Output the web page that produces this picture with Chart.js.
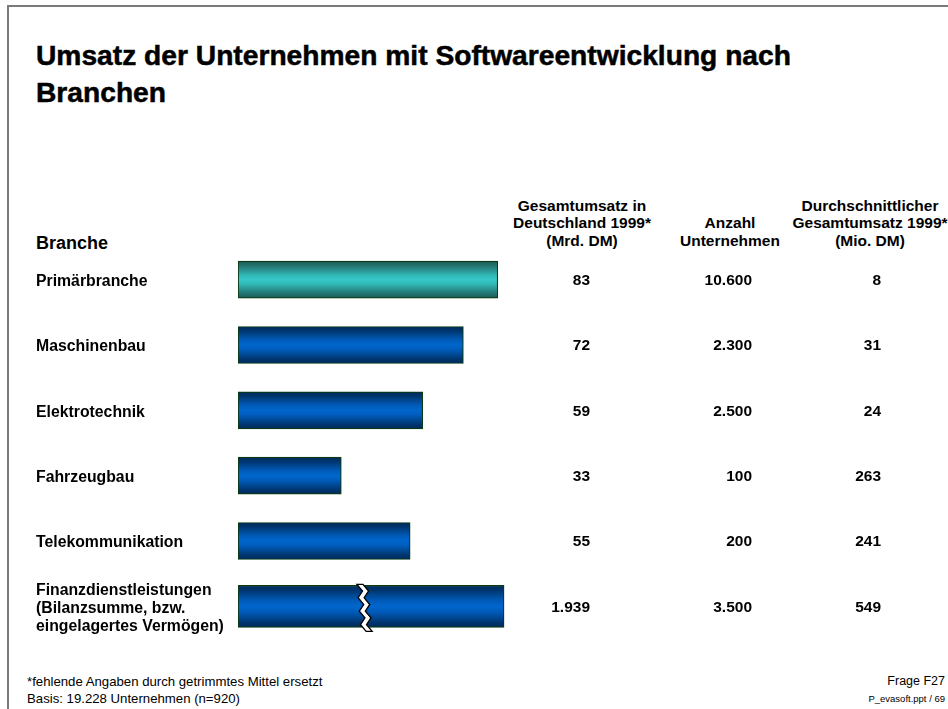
<!DOCTYPE html>
<html>
<head>
<meta charset="utf-8">
<script src="https://cdn.jsdelivr.net/npm/chart.js@4.4.1/dist/chart.umd.min.js"></script>
<style>
  html, body { margin: 0; padding: 0; background: #fff; }
  body { width: 948px; height: 709px; position: relative; overflow: hidden; font-family: "Liberation Sans", Arial, sans-serif; color: #000; }
  .frameTop { position: absolute; left: 7px; top: 5px; right: 0; height: 2px; background: #7a7a7a; }
  .frameLeft { position: absolute; left: 7px; top: 5px; bottom: 0; width: 2px; background: #7a7a7a; }
  .title { position: absolute; left: 36px; top: 37px; font-weight: bold; font-size: 28.2px; line-height: 37px; white-space: nowrap; -webkit-text-stroke: 0.5px #000; }
  .hdr { position: absolute; font-weight: bold; font-size: 15.5px; line-height: 17.5px; text-align: center; white-space: nowrap; }
  .foot { position: absolute; font-size: 13.2px; line-height: 17px; white-space: nowrap; }
  canvas { position: absolute; left: 0; top: 0; }
</style>
</head>
<body>
<div class="frameTop"></div>
<div class="frameLeft"></div>
<div class="title">Umsatz der Unternehmen mit Softwareentwicklung nach<br>Branchen</div>
<div class="hdr" style="left:36px; top:232.5px; font-size:18px; line-height:21px; text-align:left;">Branche</div>
<div class="hdr" style="left:482px; width:200px; top:196.75px;">Gesamtumsatz in<br>Deutschland 1999*<br>(Mrd. DM)</div>
<div class="hdr" style="left:630px; width:200px; top:214.25px;">Anzahl<br>Unternehmen</div>
<div class="hdr" style="left:770px; width:200px; top:196.75px;">Durchschnittlicher<br>Gesamtumsatz 1999*<br>(Mio. DM)</div>
<div class="foot" style="left:27px; top:673px;">*fehlende Angaben durch getrimmtes Mittel ersetzt<br>Basis: 19.228 Unternehmen (n=920)</div>
<div class="foot" style="right:3px; top:673px; text-align:right; font-size:12.5px;">Frage F27<br><span style="font-size:9.5px;">P_evasoft.ppt / 69</span></div>
<canvas id="c" width="948" height="709"></canvas>
<script>
// ---- data ----
const categories = [
  "Primärbranche",
  "Maschinenbau",
  "Elektrotechnik",
  "Fahrzeugbau",
  "Telekommunikation",
  ["Finanzdienstleistungen", "(Bilanzsumme, bzw.", "eingelagertes Vermögen)"]
];
const umsatzMrdDM = [83, 72, 59, 33, 55, 1939];          // Gesamtumsatz 1999 (Mrd. DM)
const umsatzLabels = ["83", "72", "59", "33", "55", "1.939"];
const anzahlLabels = ["10.600", "2.300", "2.500", "100", "200", "3.500"];
const durchschnittLabels = ["8", "31", "24", "263", "241", "549"];
const brokenIndex = 5;        // Finanzdienstleistungen bar is drawn with a scale break
const brokenBarShown = 85;    // length the broken bar is drawn at (axis units)
const breakAt = 38;           // position of the zigzag break (axis units)

// ---- build datasets ----
const normalData = umsatzMrdDM.map((v, i) => i === brokenIndex ? null : v);
const brokenData = umsatzMrdDM.map((v, i) => i === brokenIndex ? brokenBarShown : null);

function barGradient(ctx, thickness, stops) {
  const chart = ctx.chart;
  const ys = chart.scales && chart.scales.y;
  const mid = stops[Math.floor(stops.length / 2)][1];
  if (!ys) return mid;
  const yc = ys.getPixelForValue(ctx.dataIndex);
  if (!isFinite(yc)) return mid;
  const g = chart.ctx.createLinearGradient(0, yc - thickness / 2, 0, yc + thickness / 2);
  stops.forEach(s => g.addColorStop(s[0], s[1]));
  return g;
}
const blueStops = [[0, "#002a5a"], [0.12, "#00356f"], [0.25, "#004a97"], [0.38, "#005cbc"], [0.5, "#0066cc"], [0.62, "#005cbc"], [0.75, "#004a97"], [0.88, "#00356f"], [1, "#002a5a"]];
const tealStops = [[0, "#1b5a55"], [0.12, "#23736f"], [0.25, "#2a9592"], [0.38, "#31b8b6"], [0.5, "#36c9c8"], [0.62, "#31b8b6"], [0.75, "#2a9592"], [0.88, "#23736f"], [1, "#1b5a55"]];

const valuesPlugin = {
  id: "valuesAndBreak",
  afterDatasetsDraw(chart) {
    const c = chart.ctx;
    const ys = chart.scales.y, xs = chart.scales.x;
    c.save();
    // zigzag break
    const yc = ys.getPixelForValue(brokenIndex);
    const xb = xs.getPixelForValue(breakAt);
    const top = yc - 22, bot = yc + 25;
    const left = [], n = 7, amp = 5;
    for (let k = 0; k <= n; k++) {
      left.push([xb + (k % 2 ? amp : 0) + k * 0.6, top + (bot - top) * k / n]);
    }
    c.beginPath();
    left.forEach((p, k) => k ? c.lineTo(p[0], p[1]) : c.moveTo(p[0], p[1]));
    for (let k = left.length - 1; k >= 0; k--) c.lineTo(left[k][0] + 6, left[k][1]);
    c.closePath();
    c.fillStyle = "#fff";
    c.fill();
    c.lineWidth = 1.3;
    c.strokeStyle = "#000";
    c.stroke();
    // value columns
    c.fillStyle = "#000";
    c.font = "bold 15.5px 'Liberation Sans', Arial, sans-serif";
    c.textAlign = "right";
    c.textBaseline = "middle";
    categories.forEach((_, i) => {
      const y = ys.getPixelForValue(i) + 1;
      c.fillText(umsatzLabels[i], 590, y);
      c.fillText(anzahlLabels[i], 752, y);
      c.fillText(durchschnittLabels[i], 881, y);
    });
    c.restore();
  }
};

const chart = new Chart(document.getElementById("c"), {
  type: "bar",
  data: {
    labels: categories,
    datasets: [
      {
        data: normalData,
        barThickness: 37,
        grouped: false,
        borderWidth: 1.2,
        borderSkipped: false,
        borderColor: "#0a3a12",
        backgroundColor: ctx => barGradient(ctx, 37, ctx.dataIndex === 0 ? tealStops : blueStops)
      },
      {
        data: brokenData,
        barThickness: 42,
        grouped: false,
        borderWidth: 1.2,
        borderSkipped: false,
        borderColor: "#0a3a12",
        backgroundColor: ctx => barGradient(ctx, 42, blueStops)
      }
    ]
  },
  options: {
    indexAxis: "y",
    responsive: false,
    animation: false,
    layout: { padding: { left: 36, top: 247, right: 397, bottom: 70 } },
    plugins: { legend: { display: false }, tooltip: { enabled: false } },
    scales: {
      x: { display: false, min: 0, max: 100 },
      y: {
        grid: { display: false },
        border: { display: false },
        afterFit: s => { s.width = 202; },
        ticks: {
          autoSkip: false,
          crossAlign: "far",
          labelOffset: 2,
          color: "#000",
          font: { family: "'Liberation Sans', Arial, sans-serif", size: 15.8, weight: "bold", lineHeight: 1.15 }
        }
      }
    }
  },
  plugins: [valuesPlugin]
});
chart.update();
</script>
</body>
</html>
